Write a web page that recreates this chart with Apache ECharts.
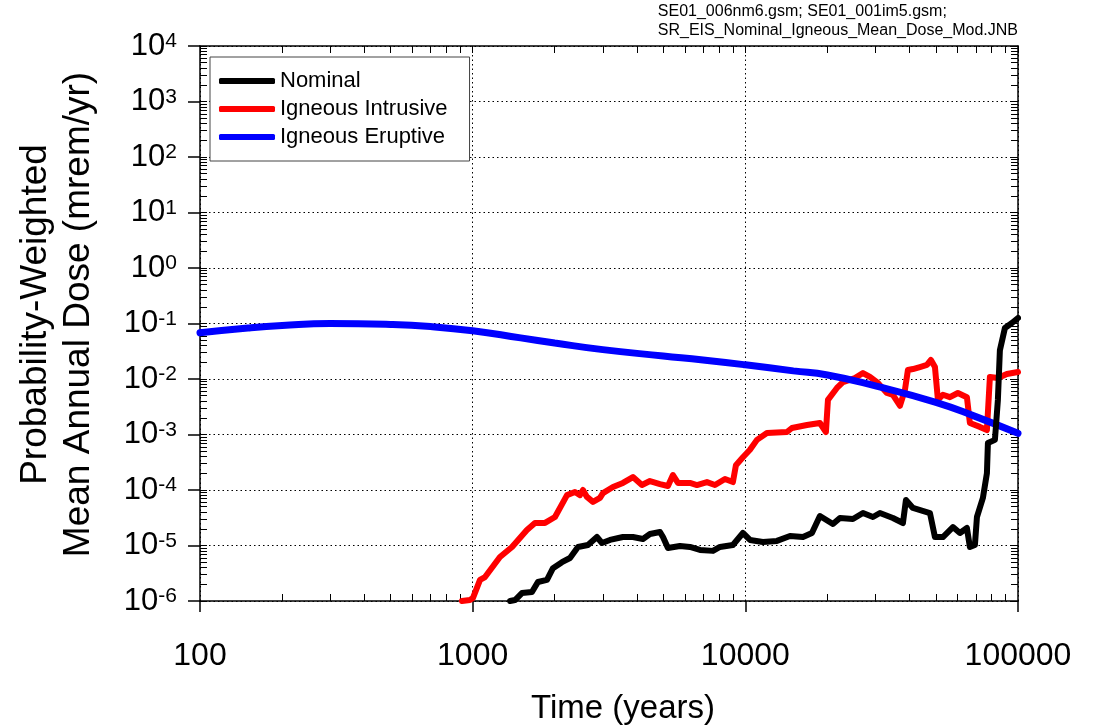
<!DOCTYPE html>
<html>
<head>
<meta charset="utf-8">
<title>Probability-Weighted Mean Annual Dose</title>
<script src="https://cdn.jsdelivr.net/npm/echarts@6/dist/echarts.min.js"></script>
<style>
  html, body { margin: 0; padding: 0; background: #fff; }
  #chart { width: 1094px; height: 728px; }
</style>
</head>
<body>
<div id="chart"></div>
<script>
// values (time in years, dose in mrem/yr)
var nominalTime = [1371, 1430, 1516, 1650, 1735, 1873, 1970, 2126, 2275, 2433, 2647, 2856, 2980, 3188, 3557, 3871, 4212, 4469, 4863, 4988, 5202, 5757, 6265, 6816, 7607, 8068, 9004, 9799, 10397, 11600, 13060, 14580, 16270, 17550, 18770, 20950, 22230, 24810, 27000, 29380, 31160, 34770, 37840, 38810, 41170, 47540, 49590, 53040, 57720, 61230, 64950, 66620, 69500, 70700, 74350, 76910, 77560, 82290, 84380, 85820, 89540, 94980, 100000]
var nominalDose = [1.0e-6, 1.04e-6, 1.39e-6, 1.45e-6, 2.2e-6, 2.4e-6, 3.9e-6, 5.0e-6, 5.96e-6, 9.4e-6, 1.02e-5, 1.42e-5, 1.11e-5, 1.26e-5, 1.42e-5, 1.42e-5, 1.31e-5, 1.61e-5, 1.75e-5, 1.42e-5, 9.0e-6, 9.8e-6, 9.4e-6, 8.3e-6, 8.0e-6, 9.4e-6, 1.02e-5, 1.68e-5, 1.26e-5, 1.16e-5, 1.21e-5, 1.48e-5, 1.42e-5, 1.68e-5, 3.4e-5, 2.44e-5, 3.13e-5, 3.0e-5, 3.85e-5, 3.26e-5, 3.85e-5, 3.13e-5, 2.54e-5, 6.6e-5, 4.74e-5, 3.85e-5, 1.42e-5, 1.42e-5, 2.15e-5, 1.68e-5, 2.07e-5, 9.4e-6, 1.02e-5, 3.26e-5, 7.2e-5, 2.0e-4, 7.0e-4, 8.0e-4, 4.2e-3, 3.3e-2, 8.3e-2, 1.02e-1, 1.26e-1]

var intrusiveTime = [913, 977, 1002, 1064, 1110, 1259, 1394, 1581, 1692, 1842, 2004, 2218, 2372, 2475, 2538, 2625, 2762, 2930, 3005, 3270, 3557, 3871, 4176, 4469, 4863, 5202, 5426, 5660, 6265, 6646, 7232, 7738, 8420, 9004, 9236, 9799, 10397, 11030, 12000, 14210, 14820, 16830, 18770, 19750, 20090, 21670, 22800, 25230, 27000, 28640, 30640, 33050, 34770, 36890, 38480, 39470, 41170, 43680, 46350, 47940, 49590, 50860, 53040, 56270, 60200, 64950, 66620, 72480, 76910, 78880, 84380, 91040, 100000]
var intrusiveDose = [1.0e-6, 1.04e-6, 1.13e-6, 2.4e-6, 2.7e-6, 6.2e-6, 9.4e-6, 1.9e-5, 2.55e-5, 2.55e-5, 3.26e-5, 8.1e-5, 9.2e-5, 8.1e-5, 1.0e-4, 7.5e-5, 6.1e-5, 7.2e-5, 8.8e-5, 1.13e-4, 1.34e-4, 1.71e-4, 1.23e-4, 1.45e-4, 1.28e-4, 1.18e-4, 1.86e-4, 1.34e-4, 1.34e-4, 1.23e-4, 1.39e-4, 1.23e-4, 1.58e-4, 1.39e-4, 2.8e-4, 3.9e-4, 5.3e-4, 8.0e-4, 1.06e-3, 1.11e-3, 1.31e-3, 1.48e-3, 1.61e-3, 1.11e-3, 4.2e-3, 6.9e-3, 8.8e-3, 1.04e-2, 1.28e-2, 1.09e-2, 8.5e-3, 5.6e-3, 5.2e-3, 3.3e-3, 6.3e-3, 1.45e-2, 1.51e-2, 1.64e-2, 1.79e-2, 2.2e-2, 1.64e-2, 4.2e-3, 5.2e-3, 4.7e-3, 5.6e-3, 4.7e-3, 1.61e-3, 1.37e-3, 1.2e-3, 1.09e-2, 1.04e-2, 1.23e-2, 1.34e-2]

var eruptiveTime = [100, 150, 200, 300, 500, 700, 1000, 1500, 2000, 3000, 5000, 7000, 10000, 15000, 20000, 30000, 50000, 70000, 100000]
var eruptiveDose = [0.068, 0.083, 0.092, 0.1, 0.096, 0.088, 0.074, 0.055, 0.0446, 0.0338, 0.026, 0.022, 0.018, 0.014, 0.0118, 0.0075, 0.0038, 0.0021, 0.00105]

var xDecades = [2, 3, 4, 5]
var yDecades = [-6, -5, -4, -3, -2, -1, 0, 1, 2, 3, 4]
var noteText = 'SE01_006nm6.gsm; SE01_001im5.gsm;\nSR_EIS_Nominal_Igneous_Mean_Dose_Mod.JNB'

var font = 'Liberation Sans, Arial, Helvetica, sans-serif'

function pairs(xs, ys) {
  return xs.map(function (x, i) { return [x, ys[i]] })
}

// minor tick positions per decade, in log10 units, for the overlay axes
function minorTicks(decades, withMajor) {
  var out = []
  for (var i = 0; i < decades.length; i++) {
    if (withMajor) out.push(decades[i])
    if (i === decades.length - 1) break
    for (var k = 2; k <= 9; k++) out.push(decades[i] + Math.log10(k))
  }
  return out
}

var black = '#000'
var tickOverlay = function (dir, pos, min, max, values, len) {
  return {
    type: 'value',
    position: pos,
    min: min,
    max: max,
    axisLine: { show: dir, onZero: false, lineStyle: { color: black, width: 1.5 } },
    axisLabel: { show: false },
    splitLine: { show: false },
    axisTick: { show: true, inside: true, length: len, customValues: values, lineStyle: { color: black, width: 1 } }
  }
}

var chart = echarts.init(document.getElementById('chart'))

chart.setOption({
  animation: false,
  backgroundColor: '#fff',
  grid: { left: 200, right: 76, top: 46, bottom: 127, containLabel: false, outerBoundsMode: 'none' },
  graphic: [{
    type: 'text',
    right: 76,
    top: 2,
    style: { text: noteText, align: 'right', fontSize: 16, lineHeight: 19, fontFamily: font, fill: '#000' }
  }],
  legend: {
    data: ['Nominal', 'Igneous Intrusive', 'Igneous Eruptive'],
    orient: 'vertical',
    left: 210,
    top: 57,
    icon: 'roundRect',
    itemWidth: 56,
    itemHeight: 6,
    itemGap: 6,
    itemTextGap: 12,
    padding: [13, 22, 13, 9],
    borderColor: '#444',
    borderWidth: 1,
    backgroundColor: '#fff',
    textStyle: { fontSize: 22, fontFamily: font, color: '#000' }
  },
  xAxis: [
    {
      type: 'log',
      logBase: 10,
      min: 100,
      max: 100000,
      interval: 1,
      position: 'bottom',
      name: 'Time (years)',
      nameLocation: 'middle',
      nameGap: 91,
      nameTextStyle: { fontSize: 33, fontFamily: font, color: '#000', padding: [0, 0, 0, 28] },
      axisLine: { onZero: false, lineStyle: { color: black, width: 1.5 } },
      axisTick: { inside: false, length: 11, lineStyle: { color: black, width: 1.5 } },
      axisLabel: {
        margin: 39,
        fontSize: 32,
        fontFamily: font,
        color: '#000',
        formatter: function (v) { return String(Math.round(v)) }
      },
      splitLine: { show: true, lineStyle: { color: black, width: 1, type: [1.5, 3] } },
      minorTick: { show: false }
    },
    tickOverlay(false, 'bottom', 2, 5, minorTicks(xDecades, false), 7),
    tickOverlay(true, 'top', 2, 5, minorTicks(xDecades, true), 7)
  ],
  yAxis: [
    {
      type: 'log',
      logBase: 10,
      min: 1e-6,
      max: 1e4,
      interval: 1,
      position: 'left',
      name: 'Probability-Weighted\nMean Annual Dose (mrem/yr)',
      nameLocation: 'middle',
      nameGap: 100,
      nameTextStyle: { fontSize: 37, lineHeight: 43, fontFamily: font, color: '#000', padding: [0, 0, 0, 18] },
      axisLine: { onZero: false, lineStyle: { color: black, width: 1.5 } },
      axisTick: { inside: false, length: 12, lineStyle: { color: black, width: 1.5 } },
      axisLabel: {
        margin: 23,
        color: '#000',
        formatter: function (v) {
          var e = Math.round(Math.log10(v))
          return '{b|10}{s|' + e + '}'
        },
        rich: {
          b: { fontSize: 31, lineHeight: 34, fontFamily: font, color: '#000' },
          s: { fontSize: 21, lineHeight: 21, fontFamily: font, color: '#000', verticalAlign: 'top', padding: [2, 0, 0, 0] }
        }
      },
      splitLine: { show: true, lineStyle: { color: black, width: 1, type: [1.5, 3] } }
    },
    tickOverlay(false, 'left', -6, 4, minorTicks(yDecades, true), 7),
    tickOverlay(true, 'right', -6, 4, minorTicks(yDecades, true), 7)
  ],
  series: [
    {
      name: 'Igneous Intrusive',
      type: 'line',
      color: '#ff0000',
      data: pairs(intrusiveTime, intrusiveDose),
      showSymbol: false,
      symbol: 'none',
      lineStyle: { color: '#ff0000', width: 6, cap: 'round', join: 'round' },
      z: 2
    },
    {
      name: 'Igneous Eruptive',
      type: 'line',
      color: '#0000ff',
      data: pairs(eruptiveTime, eruptiveDose),
      smooth: true,
      showSymbol: false,
      symbol: 'none',
      lineStyle: { color: '#0000ff', width: 7, cap: 'round' },
      z: 3
    },
    {
      name: 'Nominal',
      type: 'line',
      color: '#000000',
      data: pairs(nominalTime, nominalDose),
      showSymbol: false,
      symbol: 'none',
      lineStyle: { color: '#000000', width: 6, cap: 'round', join: 'round' },
      z: 4
    }
  ]
})
</script>
</body>
</html>
